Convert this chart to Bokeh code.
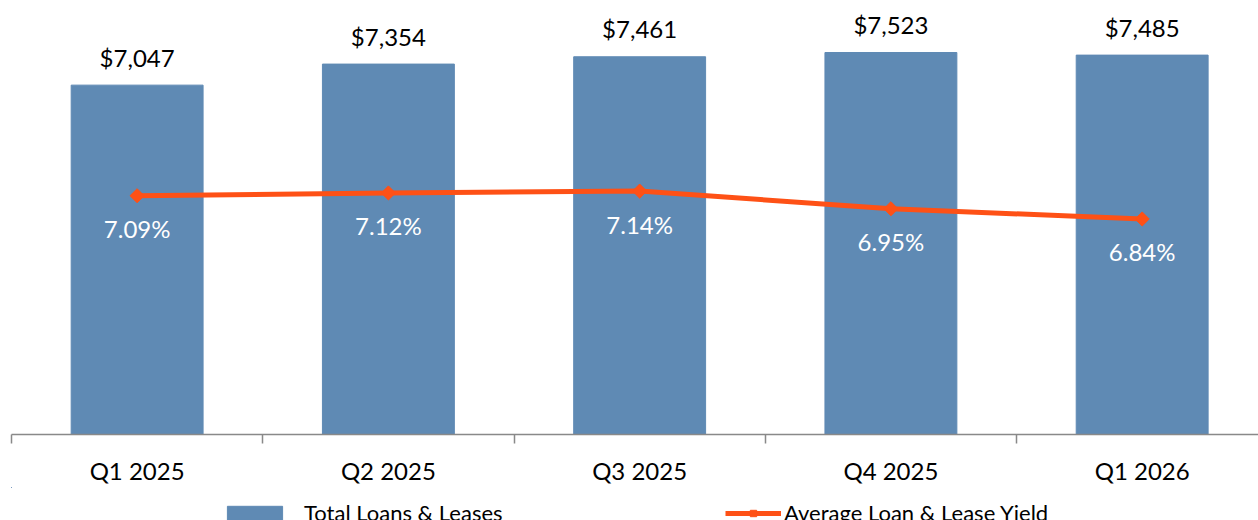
import math
from bokeh.plotting import figure
from bokeh.layouts import column
from bokeh.models import Range1d, FixedTicker, Legend, LegendItem, ColumnDataSource
from bokeh.core.properties import value
from bokeh.embed import file_html
from bokeh.resources import INLINE

categories = ["Q1 2025", "Q2 2025", "Q3 2025", "Q4 2025", "Q1 2026"]
loans = [7047, 7354, 7461, 7523, 7485]
yields = [7.09, 7.12, 7.14, 6.95, 6.84]
loan_labels = [f"${v:,}" for v in loans]
yield_labels = [f"{v:.2f}%" for v in yields]
series_names = ["Total Loans & Leases", "Average Loan & Lease Yield"]

BLUE = "#5F8AB4"
ORANGE = "#FE5116"
FONT = "Lato"

xs = list(range(len(categories)))
src = ColumnDataSource(dict(x=xs, loans=loans, yields=yields,
                            loan_labels=loan_labels, yield_labels=yield_labels))

# ---- main chart ----
p = figure(width=1258, height=487, x_range=Range1d(-0.5, 4.463),
           y_range=Range1d(1950, 8165), output_backend="svg",
           toolbar_location=None, y_axis_location=None,
           min_border_left=11, min_border_right=0, min_border_top=8,
           min_border_bottom=52)
p.extra_y_ranges = {"pct": Range1d(4.522, 9.104)}
p.outline_line_color = None
p.xgrid.visible = False
p.ygrid.visible = False
p.background_fill_color = "white"
p.border_fill_color = "white"

p.vbar(x="x", top="loans", bottom=0, width=0.525, source=src,
       fill_color=BLUE, line_color=BLUE)
p.line(x="x", y="yields", source=src, y_range_name="pct",
       line_width=5, line_color=ORANGE)
p.scatter(x="x", y="yields", source=src, y_range_name="pct",
          marker="square", angle=math.pi / 4, size=10,
          fill_color=ORANGE, line_color=ORANGE)

p.text(x="x", y="loans", text="loan_labels", source=src, y_offset=-28,
       text_align="center", text_baseline="middle",
       text_font=value(FONT), text_font_size="24px", text_color="black")
p.text(x="x", y="yields", text="yield_labels", source=src, y_range_name="pct",
       y_offset=33, text_align="center", text_baseline="middle",
       text_font=value(FONT), text_font_size="24px", text_color="white")

ax = p.xaxis[0]
ax.ticker = FixedTicker(ticks=xs, minor_ticks=[i - 0.5 for i in range(len(categories) + 1)])
ax.major_label_overrides = {i: c for i, c in enumerate(categories)}
ax.major_tick_out = 0
ax.major_tick_in = 0
ax.minor_tick_out = 9
ax.minor_tick_in = 0
ax.minor_tick_line_color = "#898989"
ax.minor_tick_line_width = 1.5
ax.axis_line_color = "#898989"
ax.axis_line_width = 1.5
ax.major_label_standoff = 12
ax.major_label_text_font = FONT
ax.major_label_text_font_size = "24px"
ax.major_label_text_color = "black"

# ---- legend strip (same series, drawn out of view; only the legend shows) ----
lg = figure(width=1258, height=33, x_range=Range1d(20, 21), y_range=Range1d(-100, -99),
            output_backend="svg", toolbar_location=None,
            x_axis_location=None, y_axis_location=None,
            min_border_left=0, min_border_right=0, min_border_top=0,
            min_border_bottom=0)
lg.outline_line_color = None
lg.xgrid.visible = False
lg.ygrid.visible = False
lg.border_fill_color = "white"
lg.background_fill_color = "white"
r_bar = lg.vbar(x="x", top="loans", width=0.525, source=src,
                fill_color=BLUE, line_color=BLUE)
r_line = lg.line(x="x", y="yields", source=src, line_width=5, line_color=ORANGE)
r_pts = lg.scatter(x="x", y="yields", source=src, marker="square",
                   angle=math.pi / 4, size=9, fill_color=ORANGE, line_color=ORANGE)

common = dict(orientation="horizontal", padding=0, margin=0,
              border_line_color=None, background_fill_alpha=0,
              label_text_font=FONT, label_text_font_size="22px",
              label_text_color="black", spacing=0)
leg1 = Legend(items=[LegendItem(label=series_names[0], renderers=[r_bar])],
              location=(209, -6), glyph_width=69, glyph_height=18,
              label_standoff=15, **common)
leg2 = Legend(items=[LegendItem(label=series_names[1], renderers=[r_line, r_pts])],
              location=(714, -6), glyph_width=56, glyph_height=16,
              label_standoff=3, **common)
lg.add_layout(leg1)
lg.add_layout(leg2)

layout = column(p, lg, spacing=0)
open("out.html", "w").write(file_html(layout, INLINE))
